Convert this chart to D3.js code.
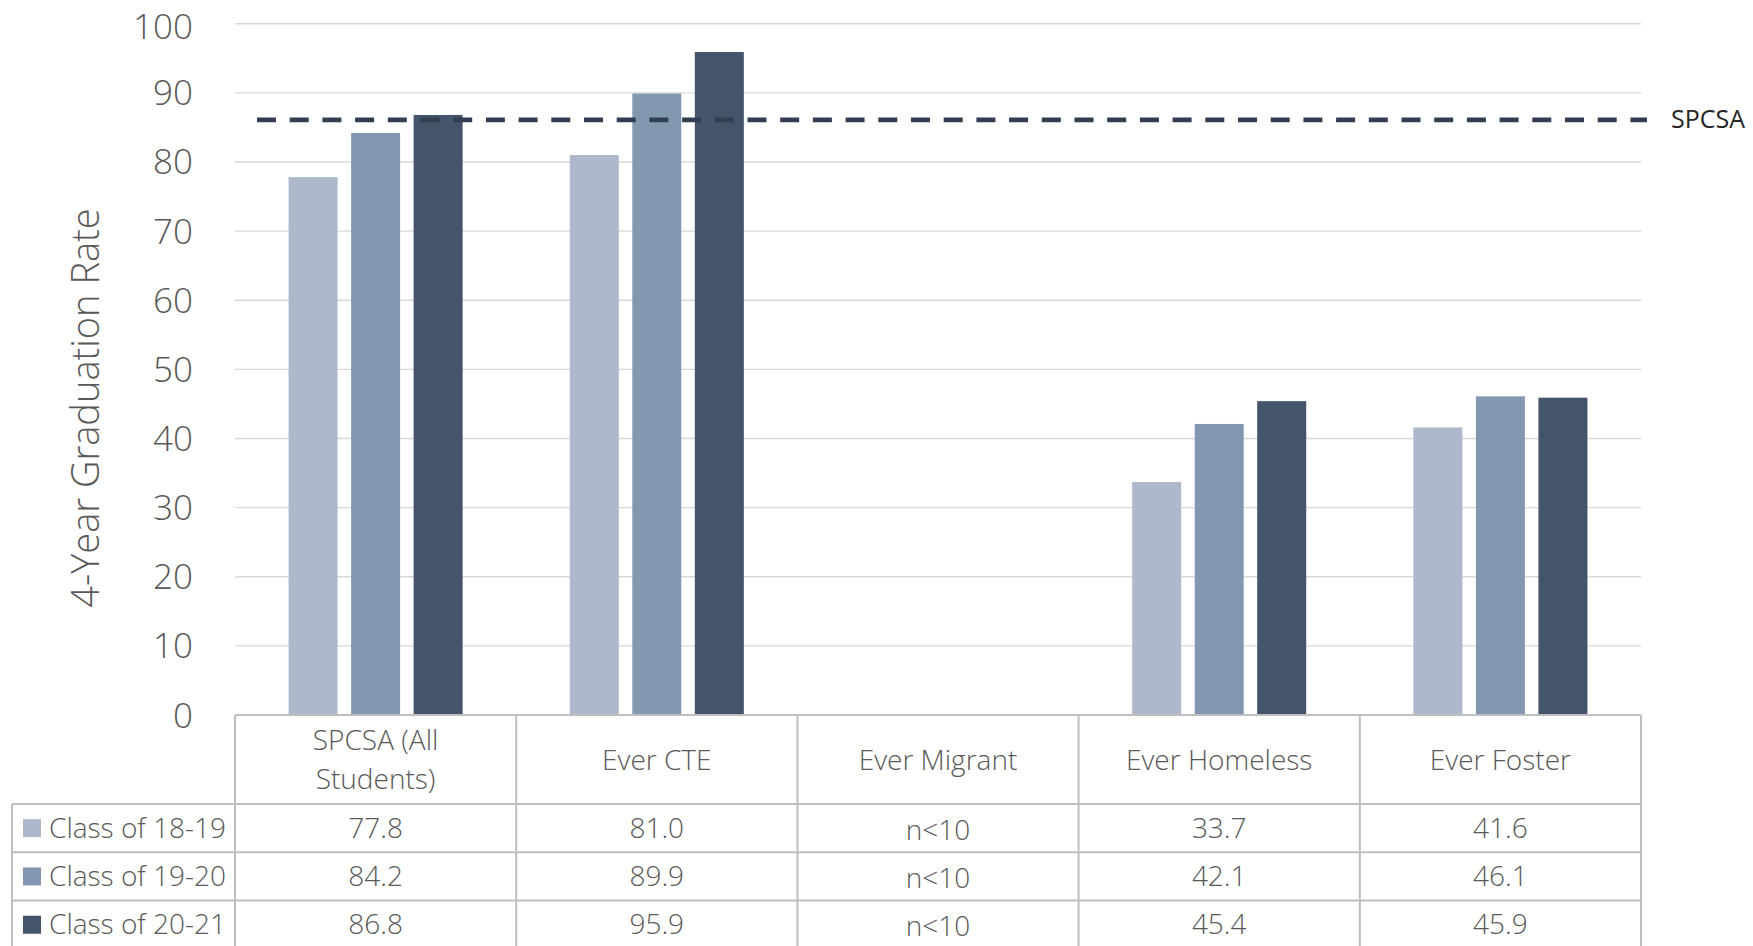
<!DOCTYPE html>
<html>
<head>
<meta charset="utf-8">
<script src="https://cdn.jsdelivr.net/npm/d3@7"></script>
<style>
  html, body { margin: 0; padding: 0; background: #ffffff; }
  svg { display: block; font-family: "Open Sans", "Noto Sans", sans-serif; font-weight: 300; }
</style>
</head>
<body>
<svg id="chart" width="1753" height="946"></svg>
<script>
// ---- data ----
const categories = ["SPCSA (All Students)", "Ever CTE", "Ever Migrant", "Ever Homeless", "Ever Foster"];
const categoryLines = [["SPCSA (All", "Students)"], ["Ever CTE"], ["Ever Migrant"], ["Ever Homeless"], ["Ever Foster"]];
const seriesNames = ["Class of 18-19", "Class of 19-20", "Class of 20-21"];
const class1819 = [77.8, 81.0, null, 33.7, 41.6];
const class1920 = [84.2, 89.9, null, 42.1, 46.1];
const class2021 = [86.8, 95.9, null, 45.4, 45.9];
const suppressedLabel = "n<10";
const benchmarkLabel = "SPCSA";
const benchmarkValue = 86.1;
const yTicks = [0, 10, 20, 30, 40, 50, 60, 70, 80, 90, 100];
const yTitle = "4-Year Graduation Rate";
const seriesColors = ["#adb9ca", "#8497b0", "#44546a"];

const seriesValues = [class1819, class1920, class2021];

// ---- layout ----
const svg = d3.select("#chart");
const plot = { left: 235, right: 1641, top: 23.7, bottom: 715 };
const table = { left: 12, headerBottom: 804, rowH: 48.3 };
const textColor = "#595959";
const gridColor = "#d9d9d9";
const borderColor = "#bfbfbf";

const x0 = d3.scaleBand().domain(categories).range([plot.left, plot.right]).padding(0);
const x1 = d3.scaleBand().domain(seriesNames).range([0, x0.bandwidth()])
  .paddingInner(0.216).paddingOuter(0.857);
const y = d3.scaleLinear().domain([0, 100]).range([plot.bottom, plot.top]);

// gridlines
svg.append("g").selectAll("line").data(yTicks.filter(d => d > 0)).join("line")
  .attr("x1", plot.left).attr("x2", plot.right)
  .attr("y1", d => y(d)).attr("y2", d => y(d))
  .attr("stroke", gridColor).attr("stroke-width", 1.4);

// y axis tick labels
svg.append("g").selectAll("text").data(yTicks).join("text")
  .attr("x", 193).attr("y", d => Math.max(y(d) + 12.5, 38.5))
  .attr("text-anchor", "end")
  .attr("font-size", 35).attr("fill", textColor)
  .text(d => d);

// y title
svg.append("text")
  .attr("transform", "translate(99,408) rotate(-90)")
  .attr("text-anchor", "middle")
  .attr("font-size", 38).attr("fill", textColor)
  .text(yTitle);

// bars
const barData = [];
categories.forEach((c, ci) => {
  seriesNames.forEach((s, si) => {
    const v = seriesValues[si][ci];
    if (v !== null) barData.push({ c, s, si, v });
  });
});
svg.append("g").selectAll("rect").data(barData).join("rect")
  .attr("x", d => x0(d.c) + x1(d.s))
  .attr("width", x1.bandwidth())
  .attr("y", d => y(d.v))
  .attr("height", d => y(0) - y(d.v))
  .attr("fill", d => seriesColors[d.si]);

// benchmark dashed line
svg.append("line")
  .attr("x1", plot.left + 22).attr("x2", plot.right + 6)
  .attr("y1", y(benchmarkValue)).attr("y2", y(benchmarkValue))
  .attr("stroke", "#323f52").attr("stroke-width", 4.7)
  .attr("stroke-dasharray", "19,13.7");
svg.append("text")
  .attr("x", 1671).attr("y", y(benchmarkValue) + 8.7)
  .attr("font-size", 25).attr("font-weight", 400).attr("fill", "#262626")
  .text(benchmarkLabel);

// ---- data table ----
const tg = svg.append("g");
const rowTops = seriesNames.map((s, i) => table.headerBottom + i * table.rowH);
const tableBottom = 946 + 5;
// top line (axis)
tg.append("line").attr("x1", plot.left).attr("x2", plot.right)
  .attr("y1", plot.bottom).attr("y2", plot.bottom)
  .attr("stroke", borderColor).attr("stroke-width", 2);
// horizontal row lines
tg.selectAll("line.h").data(rowTops.concat([table.headerBottom + 3 * table.rowH])).join("line")
  .attr("class", "h")
  .attr("x1", table.left).attr("x2", plot.right)
  .attr("y1", d => d).attr("y2", d => d)
  .attr("stroke", borderColor).attr("stroke-width", 2);
// vertical lines
const colEdges = categories.map(c => x0(c)).concat([plot.right]);
tg.selectAll("line.v").data(colEdges).join("line")
  .attr("class", "v")
  .attr("x1", d => d).attr("x2", d => d)
  .attr("y1", plot.bottom).attr("y2", tableBottom)
  .attr("stroke", borderColor).attr("stroke-width", 2);
tg.append("line")
  .attr("x1", table.left).attr("x2", table.left)
  .attr("y1", table.headerBottom).attr("y2", tableBottom)
  .attr("stroke", borderColor).attr("stroke-width", 2);

// header labels
const headerMid = (plot.bottom + table.headerBottom) / 2;
categories.forEach((c, ci) => {
  const lines = categoryLines[ci];
  const lh = 39;
  const t = tg.append("text")
    .attr("text-anchor", "middle")
    .attr("font-size", 28).attr("fill", textColor);
  lines.forEach((ln, li) => {
    t.append("tspan")
      .attr("x", x0(c) + x0.bandwidth() / 2)
      .attr("y", headerMid + 10 + (li - (lines.length - 1) / 2) * lh)
      .text(ln);
  });
});

// legend rows and values
seriesNames.forEach((s, si) => {
  const mid = rowTops[si] + table.rowH / 2;
  tg.append("rect")
    .attr("x", 23).attr("y", mid - 9).attr("width", 18).attr("height", 18)
    .attr("fill", seriesColors[si]);
  tg.append("text")
    .attr("x", 49).attr("y", mid + 9.5)
    .attr("font-size", 28).attr("fill", textColor)
    .text(s);
  categories.forEach((c, ci) => {
    const v = seriesValues[si][ci];
    tg.append("text")
      .attr("x", x0(c) + x0.bandwidth() / 2)
      .attr("y", mid + 9.5 + (v === null ? 2 : 0))
      .attr("text-anchor", "middle")
      .attr("font-size", 28).attr("fill", textColor)
      .text(v === null ? suppressedLabel : v.toFixed(1));
  });
});
</script>
</body>
</html>
